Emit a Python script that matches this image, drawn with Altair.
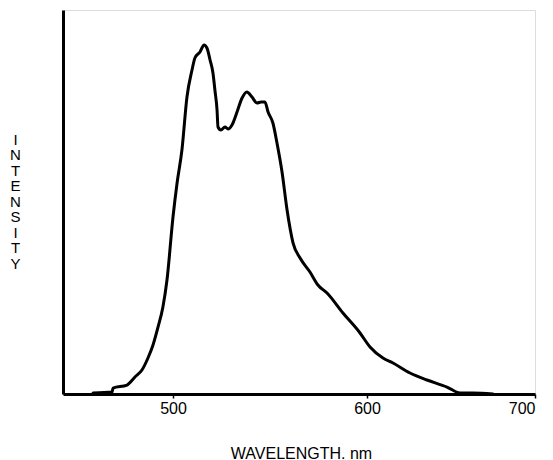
import altair as alt
import pandas as pd

wavelength = [458.8, 468.6, 469.1, 476.3, 480.4, 484.0, 487.1, 489.7, 492.3, 494.8,
              496.9, 500.0, 502.1, 504.6, 507.2, 509.8, 511.3, 513.9, 516.0, 517.5,
              519.1, 520.6, 521.6, 522.7, 523.2, 524.7, 526.8, 528.4, 530.4, 533.0,
              535.6, 538.1, 540.7, 543.3, 545.4, 547.4, 549.0, 551.5, 553.6, 556.2,
              558.8, 561.9, 565.5, 570.6, 574.7, 579.4, 587.6, 596.4, 601.8, 609.5,
              615.5, 625.6, 635.7, 647.6, 655.4, 663.1, 675.0]
intensity = [0.26, 0.52, 1.56, 2.34, 4.43, 6.25, 9.38, 12.76, 17.45, 22.66,
             29.69, 46.09, 54.95, 63.54, 77.34, 84.38, 87.5, 89.06, 90.89, 90.10,
             86.98, 83.59, 79.17, 73.96, 69.53, 68.75, 69.53, 69.01, 70.05, 73.44,
             77.08, 78.65, 77.34, 75.78, 76.04, 76.04, 73.44, 70.57, 65.36, 57.81,
             47.92, 39.32, 35.42, 31.77, 28.39, 26.30, 21.09, 15.89, 12.24, 9.38,
             8.07, 5.47, 3.65, 1.82, 0.26, 0.26, 0.0]
x_ticks = [500, 600, 700]
y_title = ["I", "N", "T", "E", "N", "S", "I", "T", "Y"]

df = pd.DataFrame({"wl": wavelength, "inten": intensity})

FONT = "Liberation Sans"

chart = alt.Chart(df).mark_line(
    color="black", strokeWidth=3, strokeJoin="round", strokeCap="round",
    interpolate="monotone"
).encode(
    x=alt.X("wl:Q",
            scale=alt.Scale(domain=[443.3, 500, 600, 700], range=[0, 110, 304, 472],
                            nice=False, zero=False),
            axis=alt.Axis(values=x_ticks, grid=False, domainColor="black", domainWidth=3,
                          tickColor="black", tickWidth=1.5, tickSize=4, labelPadding=2,
                          labelFont=FONT, labelFontSize=16, labelColor="black",
                          title="WAVELENGTH. nm", titleFont=FONT, titleFontSize=16,
                          titleFontWeight="normal", titleColor="black",
                          titleX=238, titleY=64, titleBaseline="alphabetic",
                          titleAlign="center")),
    y=alt.Y("inten:Q",
            scale=alt.Scale(domain=[0, 100], nice=False),
            axis=alt.Axis(grid=False, ticks=False, labels=False, domainColor="black",
                          domainWidth=3, title=y_title, titleAngle=0, titleFont=FONT,
                          titleFontSize=15, titleFontWeight="normal", titleColor="black",
                          titleLineHeight=15.5, titleX=-48, titleY=122,
                          titleAlign="center", titleBaseline="top")),
).properties(
    width=472, height=384,
    autosize=alt.AutoSizeParams(type="none"),
    padding={"left": 55, "top": 2, "right": 10, "bottom": 66},
).configure_view(stroke=None).configure(background="white")

chart.save("out.html", embed_options={"renderer": "svg", "actions": False})
